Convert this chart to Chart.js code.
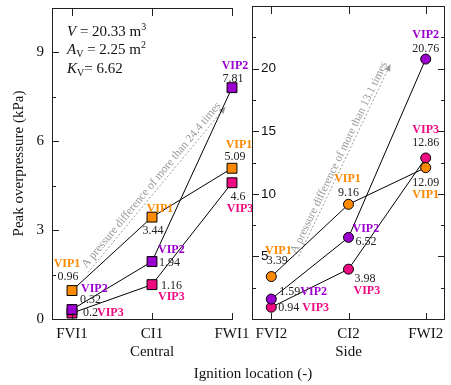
<!DOCTYPE html>
<html>
<head>
<meta charset="utf-8">
<script src="https://cdn.jsdelivr.net/npm/chart.js@4.4.0/dist/chart.umd.min.js"></script>
<style>
  html, body { margin: 0; padding: 0; background: #fff; }
  #wrap { position: relative; width: 451px; height: 385px; overflow: hidden; }
  #left { position: absolute; left: 0; top: 0; }
  #right { position: absolute; left: 244px; top: 0; }
  #xtitle { position: absolute; left: 153px; width: 200px; top: 364px; text-align: center;
            font: 15px "Liberation Serif"; line-height: 18px; color: #111; }
</style>
</head>
<body>
<div id="wrap">
  <canvas id="left" width="260" height="385"></canvas>
  <canvas id="right" width="207" height="385"></canvas>
  <div id="xtitle">Ignition location (-)</div>
</div>
<script>
// categories
const centralCats = ['FVI1', 'CI1', 'FWI1'];
const sideCats = ['FVI2', 'CI2', 'FWI2'];
const seriesNames = ['VIP1', 'VIP2', 'VIP3'];

// peak overpressure, kPa
const centralVIP1 = [0.96, 3.44, 5.09];
const centralVIP2 = [0.32, 1.94, 7.81];
const centralVIP3 = [0.2, 1.16, 4.6];
const sideVIP1 = [3.39, 9.16, 12.09];
const sideVIP2 = [1.59, 6.52, 20.76];
const sideVIP3 = [0.94, 3.98, 12.86];

const colors = ['#ff8a00', '#9b00d0', '#ee0a80'];
const serif = '"Liberation Serif", "Times New Roman", serif';

// label placement relative to each point: [nameDx, nameDy, nameAlign, valDx, valDy, valAlign]
const centralLabelPos = [
  [[-5, -27, 'center', -4, -14, 'center'], [8, -8, 'center', 1, 14, 'center'], [7, -23, 'center', 3, -11, 'center']],
  [[9, -21, 'left', 8, -10, 'left'], [6, -12, 'left', 7, 1, 'left'], [3, -22, 'center', 1, -9, 'center']],
  [[25, 0, 'left', 11, 0, 'left'], [6, 12, 'left', 9, 1, 'left'], [8, 26, 'center', 6, 14, 'center']]
];
const sideLabelPos = [
  [[7, -26, 'center', 6, -16, 'center'], [-1, -25, 'center', 0, -11, 'center'], [0, 27, 'center', 0, 15, 'center']],
  [[29, -7, 'left', 8, -7, 'left'], [4, -8, 'left', 7, 4, 'left'], [0, -24, 'center', 0, -10, 'center']],
  [[31, 1, 'left', 7, 1, 'left'], [5, 22, 'left', 6, 10, 'left'], [0, -28, 'center', 0, -15, 'center']]
];

function toPoints(vals) {
  return vals.map((v, i) => ({ x: i, y: v }));
}

function makeDatasets(series, style, radius) {
  return series.map((vals, i) => ({
    label: seriesNames[i],
    data: toPoints(vals),
    borderColor: '#000',
    borderWidth: 1,
    backgroundColor: colors[i],
    pointBackgroundColor: colors[i],
    pointBorderColor: '#000',
    pointBorderWidth: 1,
    pointStyle: style,
    pointRadius: radius,
    tension: 0
  }));
}

function drawArrow(chart, arrow) {
  const ctx = chart.ctx;
  const xs = chart.scales.x, ys = chart.scales.y;
  const x1 = xs.getPixelForValue(arrow.from[0]), y1 = ys.getPixelForValue(arrow.from[1]);
  const x2 = xs.getPixelForValue(arrow.to[0]), y2 = ys.getPixelForValue(arrow.to[1]);
  const len = Math.hypot(x2 - x1, y2 - y1);
  const ux = (x2 - x1) / len, uy = (y2 - y1) / len;
  const head = 7;
  ctx.save();
  ctx.strokeStyle = '#9a9a9a';
  ctx.fillStyle = '#9a9a9a';
  ctx.lineWidth = 1;
  ctx.setLineDash([2, 2]);
  ctx.beginPath();
  ctx.moveTo(x1, y1);
  ctx.lineTo(x2 - ux * head, y2 - uy * head);
  ctx.stroke();
  ctx.setLineDash([]);
  ctx.beginPath();
  ctx.moveTo(x2, y2);
  ctx.lineTo(x2 - ux * head - uy * 3, y2 - uy * head + ux * 3);
  ctx.lineTo(x2 - ux * head + uy * 3, y2 - uy * head - ux * 3);
  ctx.closePath();
  ctx.fill();
  // text along the arrow
  const ang = Math.atan2(y2 - y1, x2 - x1);
  const mx = (x1 + x2) / 2 + uy * arrow.offset;
  const my = (y1 + y2) / 2 - ux * arrow.offset;
  ctx.translate(mx, my);
  ctx.rotate(ang);
  ctx.font = '11.5px ' + serif;
  ctx.textAlign = 'center';
  ctx.textBaseline = 'middle';
  ctx.fillText(arrow.text, 0, 0);
  ctx.restore();
}

function richText(ctx, x, y, parts) {
  let cx = x;
  for (const [t, font, dy] of parts) {
    ctx.font = font;
    ctx.fillText(t, cx, y + dy);
    cx += ctx.measureText(t).width;
  }
}

function panelPlugin(cfg) {
  return {
    id: 'panel',
    beforeDatasetsDraw(chart) {
      drawArrow(chart, cfg.arrow);
    },
    afterDatasetsDraw(chart) {
      const ctx = chart.ctx;
      const a = chart.chartArea;
      const xs = chart.scales.x, ys = chart.scales.y;
      ctx.save();
      // frame
      ctx.strokeStyle = '#222';
      ctx.lineWidth = 1;
      ctx.beginPath();
      ctx.moveTo(a.left + 0.5, a.top);
      ctx.lineTo(a.left + 0.5, a.bottom);
      const rEdge = cfg.frameRight ? a.right : cfg.lineEnd;
      ctx.moveTo(a.left, a.top + 0.5);
      ctx.lineTo(rEdge, a.top + 0.5);
      ctx.moveTo(a.left, a.bottom + 0.5);
      ctx.lineTo(rEdge, a.bottom + 0.5);
      if (cfg.frameRight) {
        ctx.moveTo(a.right - 0.5, a.top);
        ctx.lineTo(a.right - 0.5, a.bottom + 1);
      }
      // inward ticks
      ys.ticks.forEach(t => {
        const y = Math.round(ys.getPixelForValue(t.value)) + 0.5;
        const l = (t.value % cfg.major === 0) ? 7 : 4;
        ctx.moveTo(a.left, y); ctx.lineTo(a.left + l, y);
        if (cfg.frameRight) { ctx.moveTo(a.right, y); ctx.lineTo(a.right - l, y); }
      });
      xs.ticks.forEach(t => {
        const x = Math.round(xs.getPixelForValue(t.value)) + 0.5;
        ctx.moveTo(x, a.top); ctx.lineTo(x, a.top + 8);
        ctx.moveTo(x, a.bottom); ctx.lineTo(x, a.bottom - 6);
      });
      ctx.stroke();

      // point labels
      ctx.textBaseline = 'middle';
      chart.data.datasets.forEach((ds, i) => {
        const meta = chart.getDatasetMeta(i);
        meta.data.forEach((el, j) => {
          const p = cfg.labelPos[i][j];
          ctx.font = 'bold 12px ' + serif;
          ctx.fillStyle = colors[i];
          ctx.textAlign = p[2];
          ctx.fillText(ds.label, el.x + p[0], el.y + p[1]);
          ctx.font = '12px ' + serif;
          ctx.fillStyle = '#222';
          ctx.textAlign = p[5];
          ctx.fillText(String(ds.data[j].y), el.x + p[3], el.y + p[4]);
        });
      });

      if (cfg.info) {
        ctx.fillStyle = '#111';
        ctx.textAlign = 'left';
        ctx.textBaseline = 'alphabetic';
        const it = 'italic 15px ' + serif, rg = '15px ' + serif, sm = '10px ' + serif;
        const x0 = a.left + 15;
        richText(ctx, x0, a.top + 28, [['V', it, 0], [' = 20.33 m', rg, 0], ['3', sm, -6]]);
        richText(ctx, x0, a.top + 46, [['A', it, 0], ['V', sm, 3], [' = 2.25 m', rg, 0], ['2', sm, -6]]);
        richText(ctx, x0, a.top + 65, [['K', it, 0], ['V', sm, 3], ['= 6.62', rg, 0]]);
      }
      ctx.restore();
    }
  };
}

function xScale(cats, title) {
  return {
    type: 'linear',
    min: -0.25,
    max: 2.25,
    afterBuildTicks: s => { s.ticks = cats.map((c, i) => ({ value: i })); },
    afterFit: s => { s.height = 66; s.paddingLeft = 0; s.paddingRight = 0; },
    grid: { display: false, drawTicks: false },
    border: { display: false },
    ticks: {
      autoSkip: false,
      maxRotation: 0,
      padding: 6,
      color: '#111',
      font: { family: serif, size: 15 },
      callback: v => cats[v]
    },
    title: {
      display: true,
      text: title,
      color: '#111',
      font: { family: serif, size: 15 },
      padding: { top: 0, bottom: 24 }
    }
  };
}

Chart.defaults.animation = false;

new Chart(document.getElementById('left'), {
  type: 'line',
  data: { datasets: makeDatasets([centralVIP1, centralVIP2, centralVIP3], 'rect', 7) },
  options: {
    responsive: false,
    devicePixelRatio: 1,
    layout: { padding: { top: 5, right: 8, left: 0, bottom: 0 } },
    plugins: { legend: { display: false }, tooltip: { enabled: false } },
    scales: {
      x: xScale(centralCats, 'Central'),
      y: {
        min: 0,
        max: 10.5,
        afterFit: s => { s.width = 52; s.paddingTop = 0; s.paddingBottom = 0; },
        grid: { display: false, drawTicks: false },
        border: { display: false },
        ticks: {
          stepSize: 1.5,
          autoSkip: false,
          padding: 8,
          color: '#111',
          font: { family: serif, size: 15 },
          callback: v => (v % 3 === 0 ? String(v) : '')
        },
        title: {
          display: true,
          text: 'Peak overpressure (kPa)',
          color: '#111',
          font: { family: serif, size: 15 },
          padding: { top: 10, bottom: 0 }
        }
      }
    }
  },
  plugins: [panelPlugin({
    labelPos: centralLabelPos,
    major: 3,
    frameRight: false,
    lineEnd: 233,
    info: true,
    arrow: { from: [0.2, 1.57], to: [1.92, 7.17], offset: 7,
             text: 'A pressure difference of more than 24.4 times' }
  })]
});

new Chart(document.getElementById('right'), {
  type: 'line',
  data: { datasets: makeDatasets([sideVIP1, sideVIP2, sideVIP3], 'circle', 5) },
  options: {
    responsive: false,
    devicePixelRatio: 1,
    layout: { padding: { top: 5, right: 2, left: 8, bottom: 0 } },
    plugins: { legend: { display: false }, tooltip: { enabled: false } },
    scales: {
      x: xScale(sideCats, 'Side'),
      y: {
        min: 0,
        max: 25,
        afterFit: s => { s.width = 0; s.paddingTop = 0; s.paddingBottom = 0; },
        grid: { display: false, drawTicks: false },
        border: { display: false },
        ticks: {
          stepSize: 2.5,
          autoSkip: false,
          mirror: true,
          padding: 9,
          color: '#111',
          font: { family: '"Liberation Sans", Arial, sans-serif', size: 13.5 },
          callback: v => (v % 5 === 0 && v > 0 && v < 25 ? String(v) : '')
        }
      }
    }
  },
  plugins: [panelPlugin({
    labelPos: sideLabelPos,
    major: 5,
    frameRight: true,
    info: false,
    arrow: { from: [0.354, 5.0], to: [1.544, 20.36], offset: 6,
             text: 'A pressure difference of more than 13.1 times' }
  })]
});
</script>
</body>
</html>
